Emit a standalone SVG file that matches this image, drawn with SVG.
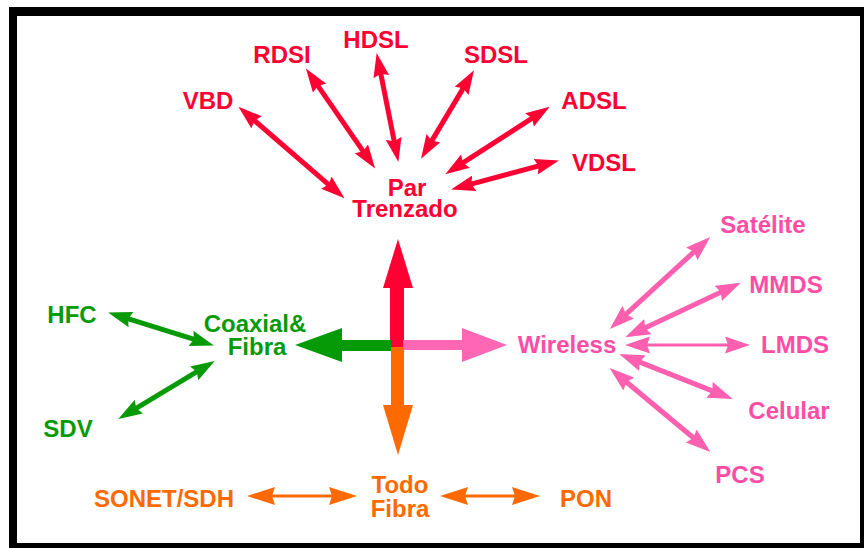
<svg xmlns="http://www.w3.org/2000/svg" width="864" height="548" viewBox="0 0 864 548">
  <style>
    text { font-family: "Liberation Sans", Arial, sans-serif; font-weight: bold; font-size: 24px; text-anchor: middle; }
    .red { fill: #FF0033; }
    .green { fill: #079A07; }
    .pink { fill: #FF4DA6; }
    .orange { fill: #FF6A00; }
    .ln-red { stroke: #FF0033; stroke-width: 5; fill: none; marker-start: url(#hRed); marker-end: url(#hRed); }
    .ln-green { stroke: #079A07; stroke-width: 5; fill: none; marker-start: url(#hGreen); marker-end: url(#hGreen); }
    .ln-pink { stroke: #FF5FAF; stroke-width: 5; fill: none; marker-start: url(#hPink); marker-end: url(#hPink); }
    .ln-pink-thin { stroke: #FF5FAF; stroke-width: 3; fill: none; marker-start: url(#hPink); marker-end: url(#hPink); }
    .ln-orange { stroke: #FF6A00; stroke-width: 3; fill: none; marker-start: url(#hOrange); marker-end: url(#hOrange); }
  </style>
  <defs>
    <marker id="hRed" markerUnits="userSpaceOnUse" markerWidth="24" markerHeight="16" refX="11" refY="8" orient="auto-start-reverse">
      <path d="M0,0 L24,8 L0,16 L3,8 Z" fill="#FF0033"/>
    </marker>
    <marker id="hGreen" markerUnits="userSpaceOnUse" markerWidth="24" markerHeight="16" refX="11" refY="8" orient="auto-start-reverse">
      <path d="M0,0 L24,8 L0,16 L3,8 Z" fill="#079A07"/>
    </marker>
    <marker id="hPink" markerUnits="userSpaceOnUse" markerWidth="25" markerHeight="17" refX="11" refY="8.5" orient="auto-start-reverse">
      <path d="M0,0 L25,8.5 L0,17 L3,8.5 Z" fill="#FF5FAF"/>
    </marker>
    <marker id="hOrange" markerUnits="userSpaceOnUse" markerWidth="28" markerHeight="18" refX="14" refY="9" orient="auto-start-reverse">
      <path d="M0,0 L28,9 L0,18 L3,9 Z" fill="#FF6A00"/>
    </marker>
  </defs>

  <!-- frame -->
  <rect x="0" y="0" width="864" height="548" fill="#FFFFFF"/>
  <rect x="9" y="7" width="855" height="541" fill="#000000"/>
  <rect x="17" y="16" width="843" height="527" fill="#FFFFFF"/>

  <!-- connectors -->
  <g id="connectors">
    <!-- central cross -->
    <polygon points="390,347 404,347 404,288 413,288 398,239 383,288 390,288" fill="#FF0033"/>
    <polygon points="391,340 342,340 342,328 295,345 342,362 342,351 391,351" fill="#079A07"/>
    <polygon points="403,340 462,340 462,328 507,345 462,362 462,350 403,350" fill="#FF66B3"/>
    <polygon points="391,347 404,347 404,405 413,405 398,455 383,405 391,405" fill="#FF6A00"/>

    <!-- twisted pair family -->
    <line class="ln-red" x1="248.3" y1="115.2" x2="334.7" y2="189.8"/>
    <line class="ln-red" x1="313.3" y1="79.1" x2="367.7" y2="157.9"/>
    <line class="ln-red" x1="379.2" y1="65.8" x2="395.8" y2="149.2"/>
    <line class="ln-red" x1="467.3" y1="81.4" x2="427.7" y2="147.6"/>
    <line class="ln-red" x1="538.8" y1="113.9" x2="456.2" y2="167.1"/>
    <line class="ln-red" x1="546.4" y1="163.9" x2="463.6" y2="186.1"/>

    <!-- coax & fibre family -->
    <line class="ln-green" x1="120.5" y1="316.3" x2="201.5" y2="341.7"/>
    <line class="ln-green" x1="129.4" y1="412.3" x2="203.6" y2="367.7"/>

    <!-- wireless family -->
    <line class="ln-pink" x1="699.9" y1="246.4" x2="620.1" y2="319.6"/>
    <line class="ln-pink" x1="728.1" y1="288.7" x2="637.9" y2="331.3"/>
    <line class="ln-pink-thin" x1="736" y1="345" x2="639" y2="345"/>
    <line class="ln-pink" x1="719.8" y1="393.9" x2="632.2" y2="359.1"/>
    <line class="ln-pink" x1="699.6" y1="443" x2="620.4" y2="377"/>

    <!-- all-fibre family -->
    <line class="ln-orange" x1="261" y1="496" x2="343" y2="496"/>
    <line class="ln-orange" x1="454" y1="496" x2="526" y2="496"/>
  </g>

  <!-- nodes -->
  <g id="par-trenzado">
    <text class="red"><tspan x="407" y="196">Par</tspan><tspan x="405" y="217">Trenzado</tspan></text>
  </g>
  <g id="vbd"><text class="red" x="208" y="109">VBD</text></g>
  <g id="rdsi"><text class="red" x="282" y="63">RDSI</text></g>
  <g id="hdsl"><text class="red" x="376" y="48">HDSL</text></g>
  <g id="sdsl"><text class="red" x="496" y="63">SDSL</text></g>
  <g id="adsl"><text class="red" x="594" y="109">ADSL</text></g>
  <g id="vdsl"><text class="red" x="604" y="171">VDSL</text></g>

  <g id="coaxial-fibra">
    <text class="green"><tspan x="255" y="332">Coaxial&amp;</tspan><tspan x="257" y="355">Fibra</tspan></text>
  </g>
  <g id="hfc"><text class="green" x="72" y="323">HFC</text></g>
  <g id="sdv"><text class="green" x="68" y="437">SDV</text></g>

  <g id="wireless"><text class="pink" x="567" y="353">Wireless</text></g>
  <g id="satelite"><text class="pink" x="763" y="233">Satélite</text></g>
  <g id="mmds"><text class="pink" x="786" y="293">MMDS</text></g>
  <g id="lmds"><text class="pink" x="795" y="353">LMDS</text></g>
  <g id="celular"><text class="pink" x="789" y="419">Celular</text></g>
  <g id="pcs"><text class="pink" x="740" y="483">PCS</text></g>

  <g id="todo-fibra">
    <text class="orange"><tspan x="400" y="493">Todo</tspan><tspan x="400" y="517">Fibra</tspan></text>
  </g>
  <g id="sonet-sdh"><text class="orange" x="164" y="507">SONET/SDH</text></g>
  <g id="pon"><text class="orange" x="586" y="507">PON</text></g>
</svg>
